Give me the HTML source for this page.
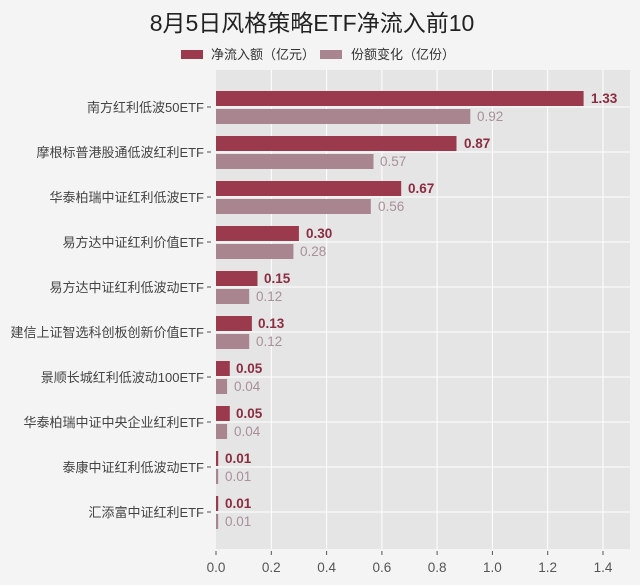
<!DOCTYPE html>
<html><head><meta charset="utf-8"><style>
html,body{margin:0;padding:0;background:#f4f4f4;}
svg{display:block;font-family:"Liberation Sans","Noto Sans CJK SC",sans-serif;}
</style></head><body>
<svg width="640" height="585" viewBox="0 0 640 585" xmlns="http://www.w3.org/2000/svg">
<rect width="640" height="585" fill="#f4f4f4"/>
<text x="312" y="31" font-size="23" text-anchor="middle" fill="#222">8月5日风格策略ETF净流入前10</text>
<rect x="181" y="50" width="22" height="9" fill="#9b3a4c"/>
<text x="211" y="59" font-size="13" fill="#333">净流入额（亿元）</text>
<rect x="320" y="50" width="22" height="9" fill="#a8858f"/>
<text x="351" y="59" font-size="13" fill="#333">份额变化（亿份）</text>
<rect x="216" y="70" width="414" height="479" fill="#e5e5e5"/>
<g stroke="#fff" stroke-width="1">
<line x1="271.3" y1="70" x2="271.3" y2="549"/><line x1="326.6" y1="70" x2="326.6" y2="549"/>
<line x1="381.9" y1="70" x2="381.9" y2="549"/><line x1="437.1" y1="70" x2="437.1" y2="549"/>
<line x1="492.4" y1="70" x2="492.4" y2="549"/><line x1="547.7" y1="70" x2="547.7" y2="549"/>
<line x1="603" y1="70" x2="603" y2="549"/>
<line x1="216" y1="107" x2="630" y2="107"/><line x1="216" y1="152" x2="630" y2="152"/>
<line x1="216" y1="197" x2="630" y2="197"/><line x1="216" y1="242" x2="630" y2="242"/>
<line x1="216" y1="287" x2="630" y2="287"/><line x1="216" y1="332" x2="630" y2="332"/>
<line x1="216" y1="377" x2="630" y2="377"/><line x1="216" y1="422" x2="630" y2="422"/>
<line x1="216" y1="467" x2="630" y2="467"/><line x1="216" y1="512" x2="630" y2="512"/>
</g>
<g font-size="13.5" fill="#555" text-anchor="middle">
<text x="216" y="572">0.0</text><text x="271.3" y="572">0.2</text><text x="326.6" y="572">0.4</text>
<text x="381.9" y="572">0.6</text><text x="437.1" y="572">0.8</text><text x="492.4" y="572">1.0</text>
<text x="547.7" y="572">1.2</text><text x="603" y="572">1.4</text>
</g>
<g stroke="#555" stroke-width="1">
<line x1="216" y1="551" x2="216" y2="555"/><line x1="271.3" y1="551" x2="271.3" y2="555"/><line x1="326.6" y1="551" x2="326.6" y2="555"/><line x1="381.9" y1="551" x2="381.9" y2="555"/><line x1="437.1" y1="551" x2="437.1" y2="555"/><line x1="492.4" y1="551" x2="492.4" y2="555"/><line x1="547.7" y1="551" x2="547.7" y2="555"/><line x1="603" y1="551" x2="603" y2="555"/>
</g>
<g font-size="13" fill="#444" text-anchor="end">
<text x="204" y="112">南方红利低波50ETF</text>
<text x="204" y="157">摩根标普港股通低波红利ETF</text>
<text x="204" y="202">华泰柏瑞中证红利低波ETF</text>
<text x="204" y="247">易方达中证红利价值ETF</text>
<text x="204" y="292">易方达中证红利低波动ETF</text>
<text x="204" y="337">建信上证智选科创板创新价值ETF</text>
<text x="204" y="382">景顺长城红利低波动100ETF</text>
<text x="204" y="427">华泰柏瑞中证中央企业红利ETF</text>
<text x="204" y="472">泰康中证红利低波动ETF</text>
<text x="204" y="517">汇添富中证红利ETF</text>
</g>
<g stroke="#555"><line x1="207" y1="107" x2="211" y2="107"/><line x1="207" y1="152" x2="211" y2="152"/><line x1="207" y1="197" x2="211" y2="197"/><line x1="207" y1="242" x2="211" y2="242"/><line x1="207" y1="287" x2="211" y2="287"/><line x1="207" y1="332" x2="211" y2="332"/><line x1="207" y1="377" x2="211" y2="377"/><line x1="207" y1="422" x2="211" y2="422"/><line x1="207" y1="467" x2="211" y2="467"/><line x1="207" y1="512" x2="211" y2="512"/></g>
<g fill="#9b3a4c">
<rect x="216" y="91" width="367.6" height="15"/>
<rect x="216" y="136" width="240.5" height="15"/>
<rect x="216" y="181" width="185.2" height="15"/>
<rect x="216" y="226" width="82.9" height="15"/>
<rect x="216" y="271" width="41.5" height="15"/>
<rect x="216" y="316" width="35.9" height="15"/>
<rect x="216" y="361" width="13.8" height="15"/>
<rect x="216" y="406" width="13.8" height="15"/>
<rect x="216" y="451" width="2.2" height="15"/>
<rect x="216" y="496" width="2.2" height="15"/>
</g>
<g fill="#a8858f">
<rect x="216" y="109" width="254.3" height="15"/>
<rect x="216" y="154" width="157.5" height="15"/>
<rect x="216" y="199" width="154.8" height="15"/>
<rect x="216" y="244" width="77.4" height="15"/>
<rect x="216" y="289" width="33.2" height="15"/>
<rect x="216" y="334" width="33.2" height="15"/>
<rect x="216" y="379" width="11.1" height="15"/>
<rect x="216" y="424" width="11.1" height="15"/>
<rect x="216" y="469" width="2.2" height="15"/>
<rect x="216" y="514" width="2.2" height="15"/>
</g>
<g font-size="13.5" font-weight="bold" fill="#8b2c40">
<text x="591" y="103">1.33</text>
<text x="464" y="148">0.87</text>
<text x="408" y="193">0.67</text>
<text x="306" y="238">0.30</text>
<text x="264" y="283">0.15</text>
<text x="258" y="328">0.13</text>
<text x="236" y="373">0.05</text>
<text x="236" y="418">0.05</text>
<text x="225" y="463">0.01</text>
<text x="225" y="508">0.01</text>
</g>
<g font-size="13.5" fill="#a8909a">
<text x="477" y="121">0.92</text>
<text x="380" y="166">0.57</text>
<text x="378" y="211">0.56</text>
<text x="300" y="256">0.28</text>
<text x="256" y="301">0.12</text>
<text x="256" y="346">0.12</text>
<text x="234" y="391">0.04</text>
<text x="234" y="436">0.04</text>
<text x="225" y="481">0.01</text>
<text x="225" y="526">0.01</text>
</g>
</svg>
</body></html>
